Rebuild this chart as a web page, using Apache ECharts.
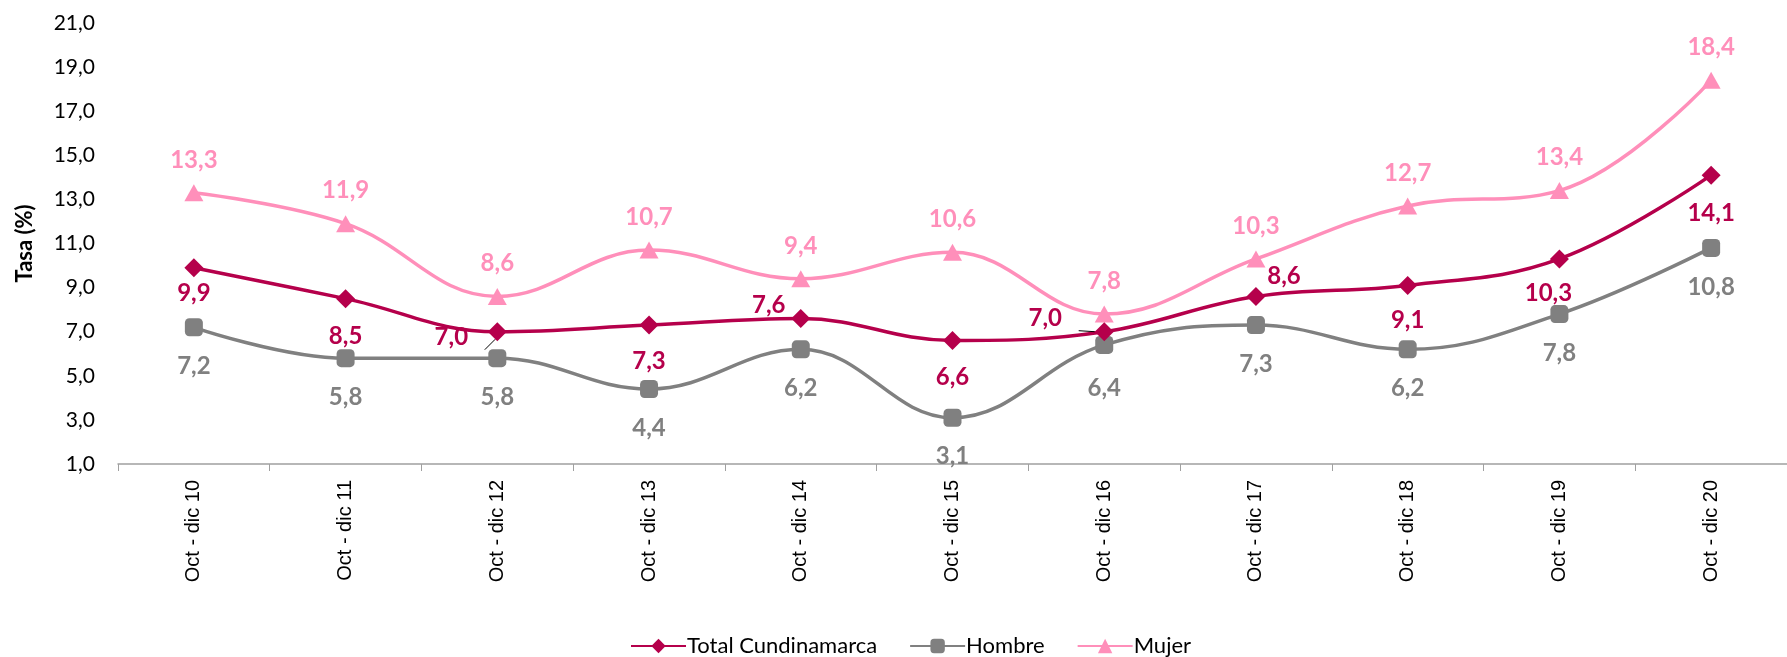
<!DOCTYPE html>
<html>
<head>
<meta charset="utf-8">
<script src="https://cdn.jsdelivr.net/npm/echarts@6/dist/echarts.min.js"></script>
<style>
  html, body { margin: 0; padding: 0; background: #fff; }
  #chart { width: 1787px; height: 657px; }
</style>
</head>
<body>
<div id="chart"></div>
<script>
const categories = ['Oct - dic 10', 'Oct - dic 11', 'Oct - dic 12', 'Oct - dic 13', 'Oct - dic 14',
  'Oct - dic 15', 'Oct - dic 16', 'Oct - dic 17', 'Oct - dic 18', 'Oct - dic 19', 'Oct - dic 20']
const total = [9.9, 8.5, 7.0, 7.3, 7.6, 6.6, 7.0, 8.6, 9.1, 10.3, 14.1]
const hombre = [7.2, 5.8, 5.8, 4.4, 6.2, 3.1, 6.4, 7.3, 6.2, 7.8, 10.8]
const mujer = [13.3, 11.9, 8.6, 10.7, 9.4, 10.6, 7.8, 10.3, 12.7, 13.4, 18.4]

const C_TOTAL = '#b5004b'
const C_HOMBRE = '#808080'
const C_MUJER = '#ff8fba'
const FONT = 'Lato, "Noto Sans", sans-serif'

// label placement per point (offset from the marker centre)
const totalOffsets = [[0, 26], [0, 38], [-46, 6], [0, 36], [-32, -13], [0, 37],
  [-59, -13], [28, -20], [0, 35], [-11, 34], [0, 38]]
const hombreOffsets = hombre.map((v, i) => (i === 6 ? [0, 43] : [0, 39]))
const mujerOffsets = mujer.map(() => [0, -33])
const leaderPoints = { total: [2, 6], hombre: [] }

const fmt = v => v.toFixed(1).replace('.', ',')

function buildData(values, offsets, leaders) {
  return values.map((v, i) => {
    const item = { value: v, label: { offset: offsets[i] } }
    if (leaders.includes(i)) item.labelLine = { show: true }
    return item
  })
}

function labelStyle(color) {
  return {
    show: true,
    position: 'inside',
    color: color,
    fontFamily: FONT,
    fontWeight: 'bold',
    fontSize: 24,
    formatter: p => fmt(p.value)
  }
}

const chart = echarts.init(document.getElementById('chart'))
chart.setOption({
  animation: false,
  grid: { left: 118, right: -4, top: 23, bottom: 193 },
  legend: {
    left: 625,
    top: 630,
    itemWidth: 55,
    itemHeight: 18,
    itemGap: 32,
    textStyle: { fontFamily: FONT, fontSize: 22, color: '#000', padding: [0, 0, 0, -4] },
    data: ['Total Cundinamarca', 'Hombre', 'Mujer']
  },
  xAxis: {
    type: 'category',
    data: categories,
    boundaryGap: true,
    axisLine: { lineStyle: { color: '#a0a0a0', width: 1.5 } },
    axisTick: { show: true, length: 7, lineStyle: { color: '#a0a0a0' } },
    axisLabel: {
      rotate: 90,
      margin: 16,
      fontFamily: '"Liberation Sans", Arial, sans-serif',
      fontSize: 20,
      color: '#000'
    }
  },
  yAxis: {
    type: 'value',
    min: 1,
    max: 21,
    interval: 2,
    name: 'Tasa (%)',
    nameLocation: 'middle',
    nameRotate: 90,
    nameGap: 82,
    nameTextStyle: { fontFamily: FONT, fontWeight: 'bold', fontSize: 22, color: '#000' },
    axisLine: { show: false },
    axisTick: { show: false },
    splitLine: { show: false },
    axisLabel: {
      margin: 23,
      fontFamily: FONT,
      fontSize: 21,
      color: '#000',
      formatter: v => fmt(v)
    }
  },
  series: [
    {
      name: 'Total Cundinamarca',
      type: 'line',
      smooth: 0.4,
      z: 4,
      symbol: 'diamond',
      symbolSize: 19,
      lineStyle: { color: C_TOTAL, width: 3.5 },
      itemStyle: { color: C_TOTAL },
      label: labelStyle(C_TOTAL),
      labelLine: { show: false, lineStyle: { color: '#000', width: 1 } },
      data: buildData(total, totalOffsets, leaderPoints.total)
    },
    {
      name: 'Hombre',
      type: 'line',
      smooth: 0.4,
      z: 2,
      symbol: 'roundRect',
      symbolSize: 18,
      lineStyle: { color: C_HOMBRE, width: 3.5 },
      itemStyle: { color: C_HOMBRE },
      label: labelStyle(C_HOMBRE),
      data: buildData(hombre, hombreOffsets, leaderPoints.hombre)
    },
    {
      name: 'Mujer',
      type: 'line',
      smooth: 0.4,
      z: 3,
      symbol: 'triangle',
      symbolSize: [19, 17],
      lineStyle: { color: C_MUJER, width: 3.5 },
      itemStyle: { color: C_MUJER },
      label: labelStyle(C_MUJER),
      data: buildData(mujer, mujerOffsets, [])
    }
  ]
})
</script>
</body>
</html>
